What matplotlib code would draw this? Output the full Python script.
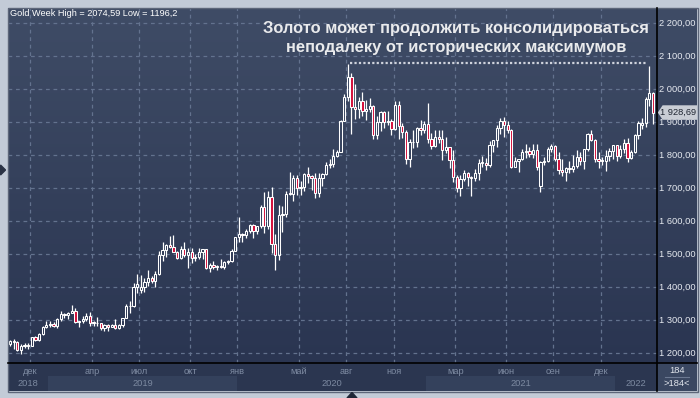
import numpy as np
import pandas as pd
import matplotlib
matplotlib.use("Agg")
import matplotlib.pyplot as plt
from matplotlib.colors import LinearSegmentedColormap
from matplotlib.patches import Rectangle, Polygon
from matplotlib.lines import Line2D

plt.rcParams["font.family"] = ["Liberation Sans", "DejaVu Sans"]

# weekly candles, Oct 2018 - Mar 2022
weeks = pd.date_range("2018-10-22", periods=178, freq="7D")

opens = [
    1228, 1235, 1232, 1209, 1222, 1223, 1222, 1248, 1238, 1257,
    1280, 1285, 1288, 1282, 1303, 1318, 1314, 1322, 1328, 1294,
    1298, 1302, 1312, 1292, 1291, 1290, 1276, 1286, 1279, 1286,
    1277, 1284, 1305, 1341, 1341, 1399, 1390, 1400, 1415, 1426,
    1419, 1440, 1497, 1513, 1527, 1520, 1507, 1488, 1516, 1497,
    1505, 1489, 1490, 1505, 1514, 1459, 1468, 1462, 1464, 1460,
    1476, 1478, 1510, 1552, 1562, 1557, 1571, 1589, 1570, 1584,
    1643, 1585, 1674, 1530, 1498, 1617, 1620, 1685, 1683, 1729,
    1700, 1702, 1743, 1735, 1730, 1685, 1730, 1743, 1771, 1774,
    1798, 1810, 1902, 1975, 2035, 1944, 1940, 1964, 1933, 1940,
    1950, 1862, 1900, 1930, 1899, 1902, 1879, 1951, 1889, 1871,
    1788, 1839, 1839, 1881, 1877, 1895, 1850, 1828, 1856, 1848,
    1814, 1824, 1784, 1734, 1700, 1727, 1745, 1733, 1729, 1744,
    1777, 1777, 1769, 1831, 1844, 1881, 1903, 1891, 1877, 1764,
    1781, 1787, 1808, 1812, 1802, 1814, 1706, 1780, 1781, 1818,
    1827, 1788, 1754, 1750, 1761, 1757, 1768, 1793, 1783, 1818,
    1864, 1845, 1788, 1783, 1783, 1798, 1811, 1829, 1797, 1818,
    1835, 1791, 1808, 1860, 1890, 1896, 1970, 1988,
]
highs = [
    1240, 1243, 1237, 1226, 1231, 1230, 1250, 1251, 1262, 1283,
    1298, 1298, 1295, 1306, 1326, 1320, 1323, 1346, 1335, 1296,
    1311, 1320, 1324, 1298, 1310, 1290, 1289, 1289, 1289, 1304,
    1287, 1306, 1348, 1358, 1411, 1439, 1437, 1426, 1452, 1434,
    1449, 1510, 1535, 1531, 1555, 1557, 1510, 1525, 1535, 1519,
    1517, 1499, 1518, 1516, 1515, 1474, 1478, 1466, 1484, 1480,
    1483, 1514, 1553, 1611, 1563, 1575, 1592, 1592, 1584, 1649,
    1689, 1692, 1703, 1560, 1647, 1645, 1690, 1747, 1738, 1739,
    1722, 1745, 1765, 1740, 1745, 1744, 1745, 1779, 1789, 1818,
    1816, 1906, 1984, 2074.59, 2050, 2015, 1977, 1992, 1966, 1973,
    1953, 1917, 1933, 1933, 1933, 1910, 1965, 1965, 1898, 1875,
    1848, 1875, 1885, 1906, 1903, 1959, 1866, 1875, 1875, 1875,
    1855, 1825, 1815, 1739, 1740, 1755, 1748, 1735, 1758, 1789,
    1798, 1790, 1843, 1846, 1890, 1913, 1916, 1903, 1878, 1795,
    1788, 1818, 1834, 1825, 1832, 1832, 1782, 1795, 1823, 1834,
    1829, 1809, 1787, 1765, 1781, 1800, 1814, 1810, 1818, 1868,
    1877, 1849, 1808, 1793, 1815, 1820, 1831, 1831, 1830, 1848,
    1853, 1815, 1865, 1902, 1912, 1976, 2070, 1990,
]
lows = [
    1222, 1211, 1206, 1196.2, 1216, 1212, 1220, 1236, 1236, 1255,
    1277, 1280, 1280, 1276, 1297, 1306, 1302, 1320, 1291, 1280,
    1290, 1298, 1281, 1281, 1283, 1271, 1266, 1267, 1278, 1273,
    1273, 1279, 1305, 1320, 1338, 1382, 1382, 1385, 1402, 1411,
    1400, 1437, 1480, 1492, 1519, 1505, 1484, 1485, 1491, 1459,
    1474, 1480, 1486, 1486, 1456, 1445, 1456, 1452, 1458, 1456,
    1470, 1477, 1508, 1536, 1535, 1550, 1563, 1547, 1560, 1580,
    1563, 1576, 1504, 1451, 1482, 1567, 1611, 1680, 1660, 1680,
    1680, 1692, 1716, 1693, 1670, 1672, 1705, 1740, 1760, 1765,
    1795, 1808, 1902, 1965, 1863, 1910, 1911, 1917, 1906, 1930,
    1848, 1848, 1873, 1883, 1890, 1860, 1876, 1850, 1853, 1774,
    1765, 1820, 1825, 1860, 1866, 1836, 1817, 1823, 1835, 1785,
    1806, 1761, 1717, 1687, 1676, 1721, 1707, 1677, 1720, 1723,
    1764, 1756, 1765, 1808, 1823, 1863, 1855, 1866, 1761, 1763,
    1750, 1784, 1792, 1794, 1790, 1754, 1687, 1771, 1778, 1809,
    1782, 1742, 1737, 1721, 1746, 1747, 1760, 1770, 1758, 1813,
    1842, 1780, 1762, 1771, 1753, 1783, 1789, 1782, 1790, 1805,
    1780, 1788, 1807, 1850, 1878, 1886, 1950, 1895,
]
closes = [
    1235, 1232, 1209, 1222, 1223, 1222, 1248, 1238, 1257, 1280,
    1285, 1288, 1282, 1303, 1318, 1314, 1322, 1328, 1294, 1298,
    1302, 1312, 1292, 1291, 1290, 1276, 1286, 1279, 1286, 1277,
    1284, 1305, 1341, 1341, 1399, 1409, 1400, 1415, 1426, 1419,
    1440, 1497, 1513, 1527, 1520, 1507, 1488, 1516, 1497, 1505,
    1489, 1490, 1505, 1514, 1459, 1468, 1462, 1464, 1460, 1476,
    1478, 1510, 1552, 1562, 1557, 1571, 1589, 1570, 1584, 1643,
    1585, 1674, 1530, 1498, 1617, 1620, 1683, 1683, 1729, 1700,
    1702, 1743, 1735, 1730, 1685, 1730, 1743, 1771, 1774, 1798,
    1810, 1902, 1975, 2035, 1944, 1940, 1964, 1933, 1940, 1950,
    1862, 1900, 1930, 1899, 1902, 1879, 1951, 1889, 1871, 1788,
    1839, 1839, 1881, 1877, 1895, 1850, 1828, 1856, 1848, 1814,
    1824, 1784, 1734, 1700, 1727, 1745, 1733, 1729, 1744, 1777,
    1777, 1769, 1831, 1844, 1881, 1903, 1891, 1877, 1764, 1781,
    1787, 1808, 1812, 1802, 1814, 1763, 1780, 1781, 1818, 1827,
    1788, 1754, 1750, 1761, 1757, 1768, 1793, 1783, 1818, 1864,
    1845, 1788, 1783, 1783, 1798, 1811, 1829, 1797, 1818, 1835,
    1791, 1808, 1860, 1896, 1897, 1970, 1988, 1928.69,
]

month_starts = ["2018-12-01", "2019-04-01", "2019-07-01", "2019-10-01", "2020-01-01",
                "2020-05-01", "2020-08-01", "2020-11-01", "2021-03-01", "2021-06-01",
                "2021-09-01", "2021-12-01"]
month_labels = ["дек", "апр", "июл", "окт", "янв", "май", "авг", "ноя", "мар", "июн", "сен", "дек"]
years = [2018, 2019, 2020, 2021, 2022]
price_ticks = [1200, 1300, 1400, 1500, 1600, 1700, 1800, 1900, 2000, 2100, 2200]
title = "Золото может продолжить консолидироваться\nнеподалеку от исторических максимумов"


def fmt_price(v):
    return f"{v:,.2f}".replace(",", " ").replace(".", ",")


W, H = 700, 398
fig = plt.figure(figsize=(W / 100, H / 100), dpi=100)
fig.patch.set_facecolor("#c3cbd7")


def box(x0, y0, x1, y1):
    return [x0 / W, 1 - y1 / H, (x1 - x0) / W, (y1 - y0) / H]


n = len(closes)
xmin, xmax = -0.55, n + 0.1
ymin, ymax = 1169.7, 2245.5
grad = LinearSegmentedColormap.from_list("bg", ["#2a3551", "#3f4c66"])
grid_kw = dict(color="#63728e", lw=0.9, linestyle=(0, (3, 3)), zorder=1)

# main price area
ax = fig.add_axes(box(8, 8, 657, 363))
ax.imshow(np.linspace(0, 1, 256).reshape(-1, 1), cmap=grad, origin="lower",
          extent=[xmin, xmax, ymin, ymax], aspect="auto", zorder=0)
ax.set_xlim(xmin, xmax)
ax.set_ylim(ymin, ymax)
ax.axis("off")

for p in price_ticks:
    ax.axhline(p, **grid_kw)

month_pos = [np.searchsorted(weeks, pd.Timestamp(d)) - 0.4 for d in month_starts]
for x in month_pos:
    ax.axvline(x, **grid_kw)

# all-time-high reference line
i_hi = int(np.argmax(highs))
ax.hlines(max(highs) + 4, i_hi + 0.6, n - 3, color="#cfd3dc", lw=1.6,
          linestyle=(0, (1, 1)), zorder=2)

bw = 0.62
for i in range(n):
    o, h, l, c = opens[i], highs[i], lows[i], closes[i]
    lo_b, hi_b = min(o, c), max(o, c)
    ax.vlines(i, l, lo_b, color="white", lw=0.9, zorder=3)
    ax.vlines(i, hi_b, h, color="white", lw=0.9, zorder=3)
    face = "#d4103c" if c < o else "none"
    ax.add_patch(Rectangle((i - bw / 2, lo_b), bw, max(hi_b - lo_b, 1.5),
                           facecolor=face, edgecolor="white", lw=0.75, zorder=4))

# right price scale
axr = fig.add_axes(box(657, 8, 697, 363))
axr.imshow(np.linspace(0, 1, 256).reshape(-1, 1), cmap=grad, origin="lower",
           extent=[0, 1, ymin, ymax], aspect="auto", zorder=0)
axr.set_xlim(0, 1)
axr.set_ylim(ymin, ymax)
axr.axis("off")
for p in price_ticks:
    axr.text(0.96, p, fmt_price(p), ha="right", va="center", fontsize=6.7,
             color="#e6eaf0", zorder=2)
last = closes[-1]
axr.add_patch(Polygon([[0.02, last], [0.14, last + 22], [1.0, last + 22],
                       [1.0, last - 22], [0.14, last - 22]],
                      closed=True, facecolor="#c9cdd5", edgecolor="none", zorder=3))
axr.text(0.97, last, fmt_price(last), ha="right", va="center", fontsize=6.7,
         color="#1e2430", zorder=4)

# time scale
axb = fig.add_axes(box(8, 363, 657, 391))
axb.set_xlim(xmin, xmax)
axb.set_ylim(0, 1)
axb.axis("off")
axb.add_patch(Rectangle((xmin, 0), xmax - xmin, 1, facecolor="#2b3650", zorder=0))
year_edges = [xmin] + [np.searchsorted(weeks, pd.Timestamp(f"{y}-01-01")) - 0.5
                       for y in years[1:]] + [xmax]
for k, y in enumerate(years):
    a, b = year_edges[k], year_edges[k + 1]
    if k % 2 == 1:
        axb.add_patch(Rectangle((a, 0), b - a, 0.52, facecolor="#34415c", zorder=1))
    axb.text((a + b) / 2, 0.27, str(y), ha="center", va="center", fontsize=6.7,
             color="#7c89a0", zorder=2)
for x, lab in zip(month_pos, month_labels):
    axb.text(x, 0.7, lab, ha="center", va="center", fontsize=6.7, color="#7f8ca3", zorder=2)

# corner box
axc = fig.add_axes(box(657, 363, 697, 391))
axc.set_xlim(0, 1)
axc.set_ylim(0, 1)
axc.axis("off")
axc.add_patch(Rectangle((0, 0), 1, 1, facecolor="#3a4761", zorder=0))
axc.text(0.5, 0.74, str(n + 6), ha="center", va="center", fontsize=6.7, color="#e3e7ee")
axc.text(0.5, 0.26, f">{n + 6}<", ha="center", va="center", fontsize=6.7, color="#e3e7ee")
axc.plot([0.2, 0.8], [0.5, 0.5], color="#6b7891", lw=0.8)

# separators and frame
fig.add_artist(Line2D([657 / W, 657 / W], [1 - 8 / H, 1 - 391 / H], color="black", lw=1.2))
fig.add_artist(Line2D([8 / W, 697 / W], [1 - 363 / H, 1 - 363 / H], color="black", lw=1.2))
fig.add_artist(Rectangle((7.5 / W, 1 - 391.5 / H), 690 / W, 384 / H, transform=fig.transFigure,
                         fill=False, edgecolor="#5d6679", lw=1))
fig.add_artist(Polygon([[0.5 / W, 1 - 165 / H], [5.5 / W, 1 - 170 / H], [0.5 / W, 1 - 175 / H]],
                       closed=True, transform=fig.transFigure, color="#2b3345"))
fig.add_artist(Polygon([[347 / W, 1 - 398 / H], [352 / W, 1 - 392.5 / H], [357 / W, 1 - 398 / H]],
                       closed=True, transform=fig.transFigure, color="#1f2636"))

# texts
hi_txt = f"{max(highs):g}".replace(".", ",")
lo_txt = f"{min(lows):g}".replace(".", ",")
fig.text(10 / W, 1 - 14 / H, f"Gold Week High = {hi_txt} Low = {lo_txt}",
         ha="left", va="center", fontsize=6.6, color="white")
fig.text(456 / W, 1 - 38 / H, title, ha="center", va="center", fontsize=11.9,
         color="#e9eaec", fontweight="bold", linespacing=1.4)

fig.savefig("out.png", dpi=100, facecolor=fig.get_facecolor())
